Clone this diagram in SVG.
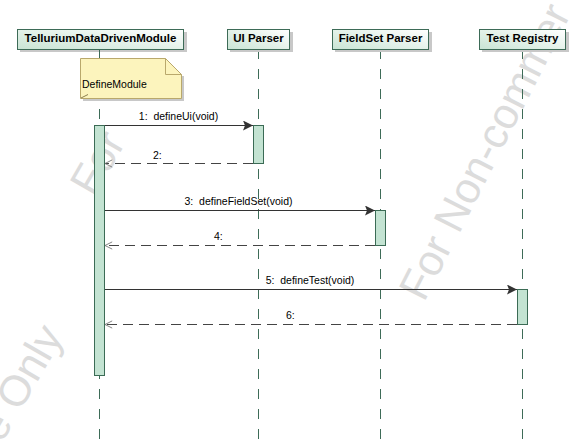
<svg xmlns="http://www.w3.org/2000/svg" width="586" height="442" viewBox="0 0 586 442">
<defs>
<linearGradient id="hdr" x1="0" y1="1" x2="1" y2="0">
<stop offset="0" stop-color="#c9e4d4"/>
<stop offset="1" stop-color="#ffffff"/>
</linearGradient>
<marker id="solid" viewBox="0 0 10 10" refX="10" refY="5" markerWidth="10" markerHeight="10" markerUnits="userSpaceOnUse" orient="auto">
<path d="M0,0 L10,5 L0,10 L2,5 Z" fill="#333"/>
</marker>
<marker id="open" viewBox="0 0 10 10" refX="9" refY="5" markerWidth="9" markerHeight="9" markerUnits="userSpaceOnUse" orient="auto">
<path d="M1,1 L9,5 L1,9" fill="none" stroke="#777" stroke-width="1"/>
</marker>
</defs>
<style>
.wm{font-family:"Liberation Sans",Arial,sans-serif;font-size:43px;fill:#dcdcdc}
.hb{fill:url(#hdr);stroke:#3d6b57;stroke-width:1}
.sh{fill:#c8c8c8}
.ht{font-family:"Liberation Sans",Arial,sans-serif;font-size:11.5px;font-weight:bold;fill:#000;text-anchor:middle}
.life{stroke:#3d6b57;stroke-width:1;stroke-dasharray:10 10;fill:none}
.act{fill:#c3e3d2;stroke:#3b6b55;stroke-width:1}
.call{stroke:#333;stroke-width:1;fill:none;marker-end:url(#solid)}
.ret{stroke:#444;stroke-width:1;stroke-dasharray:10 6;fill:none;marker-end:url(#open)}
.lbl{font-family:"Liberation Sans",Arial,sans-serif;font-size:10.5px;fill:#000}
.mid{text-anchor:middle}
</style>
<rect width="586" height="442" fill="#fff"/>
<g id="watermark">
<text class="wm" transform="translate(424,303) rotate(-63)">For Non-commer</text>
<text class="wm" transform="translate(94,198) rotate(-60)">For</text>
<text class="wm" text-anchor="end" transform="translate(64,336) rotate(-60)">se Only</text>
</g>
<g id="lifelines">
<line class="life" x1="99.5" y1="49" x2="99.5" y2="442"/>
<line class="life" x1="258.5" y1="49" x2="258.5" y2="442"/>
<line class="life" x1="380.5" y1="49" x2="380.5" y2="442"/>
<line class="life" x1="522.5" y1="49" x2="522.5" y2="442"/>
</g>
<g id="TelluriumDataDrivenModule">
<rect class="sh" x="20" y="32" width="167" height="20"/>
<rect class="hb" x="17.5" y="29.5" width="166" height="20"/>
<text class="ht" x="100.5" y="42">TelluriumDataDrivenModule</text>
</g>
<g id="UIParser">
<rect class="sh" x="230" y="32" width="63" height="20"/>
<rect class="hb" x="227.5" y="29.5" width="62" height="20"/>
<text class="ht" x="258.5" y="42">UI Parser</text>
</g>
<g id="FieldSetParser">
<rect class="sh" x="335" y="32" width="97" height="20"/>
<rect class="hb" x="332.5" y="29.5" width="96" height="20"/>
<text class="ht" x="380.5" y="42">FieldSet Parser</text>
</g>
<g id="TestRegistry">
<rect class="sh" x="482" y="32" width="87" height="20"/>
<rect class="hb" x="479.5" y="29.5" width="86" height="20"/>
<text class="ht" x="522.5" y="42">Test Registry</text>
</g>
<g id="DefineModuleNote">
<line x1="99.5" y1="49" x2="99.5" y2="58" stroke="#3d6b57" stroke-width="1"/>
<path d="M83,101 L184,101 L184,76 L181,76 L181,98 L83,98 Z" fill="#c8c8c8"/>
<path d="M80.5,58.5 L165.5,58.5 L181.5,74.5 L181.5,98.5 L80.5,98.5 Z" fill="#fcf4bd" stroke="#b9a86c" stroke-width="1"/>
<path d="M165.5,58.5 L165.5,74.5 L181.5,74.5" fill="none" stroke="#b9a86c" stroke-width="1"/>
<line x1="81" y1="98" x2="88" y2="94.5" stroke="#8c7e4f" stroke-width="1"/>
<text class="lbl" x="82" y="88">DefineModule</text>
</g>
<g id="activations">
<rect class="act" x="94.5" y="125.5" width="10" height="250"/>
<rect class="act" x="253.5" y="125.5" width="10" height="38"/>
<rect class="act" x="375.5" y="210.5" width="10" height="35"/>
<rect class="act" x="517.5" y="289.5" width="10" height="35"/>
</g>
<g id="connectors">
<line class="call" x1="105" y1="125.5" x2="253" y2="125.5"/>
<line class="ret" x1="253" y1="163.5" x2="105" y2="163.5"/>
<line class="call" x1="105" y1="210.5" x2="375" y2="210.5"/>
<line class="ret" x1="375" y1="245.5" x2="105" y2="245.5"/>
<line class="call" x1="105" y1="289.5" x2="517" y2="289.5"/>
<line class="ret" x1="517" y1="324.5" x2="105" y2="324.5"/>
</g>
<g id="labels">
<text class="lbl mid" x="178.5" y="120">1:&#160; defineUi(void)</text>
<text class="lbl" x="153" y="159">2:</text>
<text class="lbl mid" x="238.5" y="205">3:&#160; defineFieldSet(void)</text>
<text class="lbl" x="214" y="240">4:</text>
<text class="lbl mid" x="310" y="284">5:&#160; defineTest(void)</text>
<text class="lbl" x="286" y="319">6:</text>
</g>
</svg>
